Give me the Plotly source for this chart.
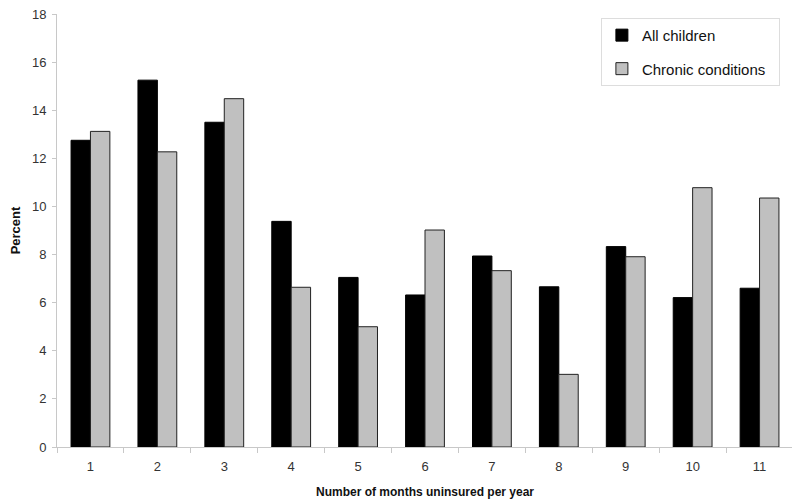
import plotly.graph_objects as go

months = ["1", "2", "3", "4", "5", "6", "7", "8", "9", "10", "11"]
all_children = [12.75, 15.25, 13.5, 9.38, 7.05, 6.32, 7.94, 6.66, 8.33, 6.21, 6.6]
chronic = [13.12, 12.27, 14.48, 6.64, 5.0, 9.02, 7.33, 3.02, 7.91, 10.78, 10.35]

fig = go.Figure()
fig.add_trace(go.Bar(x=months, y=all_children, name="All children", legendgroup="a",
                     marker=dict(color="#000000", line=dict(color="#000000", width=1))))
fig.add_trace(go.Bar(x=months, y=chronic, name="Chronic conditions\u00a0\u00a0", legendgroup="b",
                     marker=dict(color="#c0c0c0", line=dict(color="#222222", width=1))))

font = "Liberation Sans, Arial, sans-serif"
# page body adds an 8px offset; figure is sized to compensate
fig.update_layout(
    width=792, height=496,
    margin=dict(l=49, r=7, t=6, b=57, autoexpand=False),
    paper_bgcolor="white", plot_bgcolor="white",
    barmode="group", bargap=0.42, bargroupgap=0,
    font=dict(family=font, size=13, color="#333333"),
    showlegend=True,
    legend=dict(x=0.739, y=0.991, xanchor="left", yanchor="top",
                bordercolor="#dddddd", borderwidth=1, bgcolor="white",
                font=dict(family=font, size=15, color="#111111"),
                traceorder="grouped", tracegroupgap=11,
                itemwidth=30),
    xaxis=dict(title=dict(text="<b>Number of months uninsured per year</b>", font=dict(size=12, color="#111111"), standoff=15),
               showline=True, linecolor="#c8c8c8", linewidth=1,
               ticks="outside", tickson="boundaries", ticklen=5, tickcolor="#c8c8c8",
               ticklabelstandoff=7,
               showgrid=False, tickfont=dict(size=13, color="#333333"), automargin=False),
    yaxis=dict(title=dict(text="<b>Percent</b>", font=dict(size=13, color="#111111"), standoff=10),
               range=[0, 18], dtick=2, showline=True, linecolor="#c8c8c8", linewidth=1,
               ticks="outside", ticklen=4, tickcolor="#c8c8c8", ticklabelstandoff=3,
               ticklabeloverflow="allow",
               showgrid=False, zeroline=False, tickfont=dict(size=13, color="#333333"), automargin=False),
)

fig.write_html("out.html")
